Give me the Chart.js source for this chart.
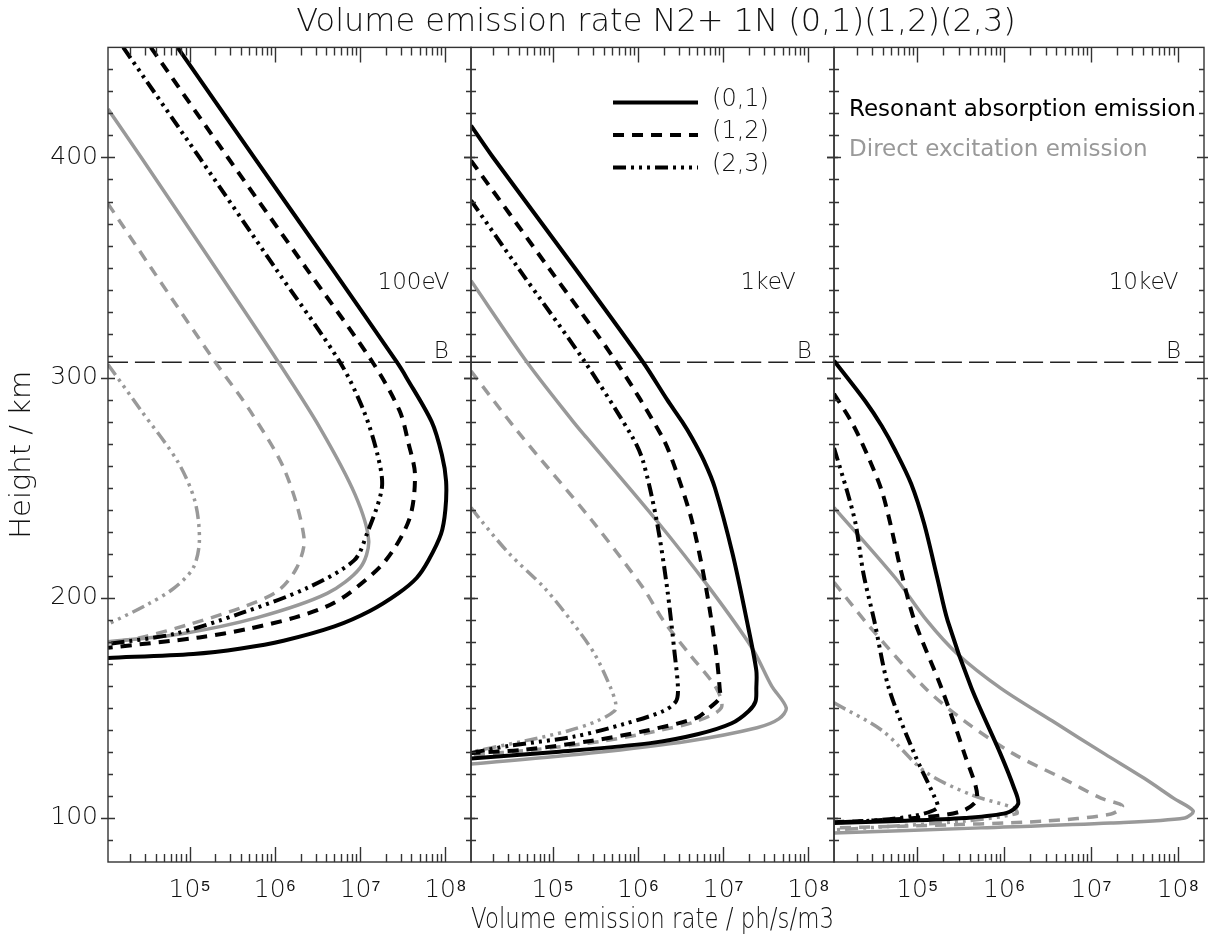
<!DOCTYPE html>
<html>
<head>
<meta charset="utf-8">
<title>Volume emission rate N2+ 1N</title>
<script src="https://cdn.jsdelivr.net/npm/chart.js@4.4.0/dist/chart.umd.min.js"></script>
<style>
  html, body { margin: 0; padding: 0; background: #fff; }
  #wrap { width: 1217px; height: 939px; }
</style>
</head>
<body>
<div id="wrap"><canvas id="emissionChart" width="1217" height="939"></canvas></div>
<script>
// axis ranges (same log range in every panel)
const xMin = 1.1e4;
const xMax = 2e8;
const yMin = 80;
const yMax = 450;
const bHeight = 307;       // dashed "B" level, km

const panelNames = ['100eV', '1keV', '10keV'];
const bandNames = ['(0,1)', '(1,2)', '(2,3)'];
const xTickValues = [1e5, 1e6, 1e7, 1e8];
const xTickLabels = ['10⁵', '10⁶', '10⁷', '10⁸'];

// [height km, emission ph/s/m3]
// 100 eV, resonant absorption (black)
const res_100eV_01 = [[450,7.2e4],[400,5.7e5],[350,4.6e6],[307,2.7e7],[300,3.5e7],[280,6.9e7],[265,9.1e7],[253,1.02e8],[240,1.0e8],[229,8.9e7],[216.8,6.3e7],[209,4.6e7],[202,2.8e7],[194,1.3e7],[187,5.0e6],[180.5,1.26e6],[177,4.0e5],[174.5,1.1e5],[172.7,1.1e4]];
const res_100eV_12 = [[450,3.5e4],[400,2.8e5],[350,2.3e6],[307,1.4e7],[285,2.9e7],[270,3.7e7],[256,4.4e7],[236,3.8e7],[217,2.0e7],[202,7.4e6],[196,4.0e6],[191,1.7e6],[186,5.0e5],[182,1.3e5],[177.3,1.1e4]];
const res_100eV_23 = [[450,1.66e4],[400,1.3e5],[350,1.0e6],[307,5.8e6],[285,1.1e7],[265,1.6e7],[250,1.8e7],[229,1.2e7],[217,8.5e6],[204.5,2.4e6],[193,4.0e5],[183.6,6.6e4],[179,1.1e4]];
// 100 eV, direct excitation (grey)
const dir_100eV_01 = [[422,1.1e4],[400,2.7e4],[350,2.0e5],[307,1.1e6],[277,3.4e6],[247,8.7e6],[226,1.26e7],[213.6,1.0e7],[202,4.1e6],[191,6.2e5],[183.6,7.8e4],[180,1.1e4]];
const dir_100eV_12 = [[379,1.1e4],[350,3.5e4],[307,2.0e5],[285,5.1e5],[258,1.3e6],[227,2.2e6],[213.6,1.8e6],[203,1.07e6],[195.5,4.0e5],[188,1.0e5],[182,2.7e4],[179.5,1.1e4]];
const dir_100eV_23 = [[306,1.1e4],[285,2.7e4],[262,7.2e4],[244,1.15e5],[226,1.3e5],[213.6,1.1e5],[204.5,6.6e4],[197,3.2e4],[188,1.1e4]];

// 1 keV
const res_1keV_01 = [[414.5,1.1e4],[400,2.0e4],[350,1.8e5],[307,1.15e6],[290,2.2e6],[280,3.3e6],[272.7,4.3e6],[262,6.0e6],[250,8.0e6],[220,1.29e7],[189.5,1.9e7],[167,2.45e7],[159,2.45e7],[153,2.4e7],[148.6,2.0e7],[143,1.26e7],[138,5.0e6],[134,1.4e6],[130,1.1e5],[127,1.1e4]];
const res_1keV_12 = [[398.6,1.1e4],[350,8.9e4],[307,5.6e5],[272.7,1.95e6],[257.7,2.8e6],[235,4.3e6],[204.5,6.3e6],[174.5,8.3e6],[159,9.1e6],[154.5,9.1e6],[150,6.9e6],[145.5,4.9e6],[139.5,1.2e6],[135,2.8e5],[131,4.7e4],[129.5,1.1e4]];
const res_1keV_23 = [[380.5,1.1e4],[350,3.9e4],[307,2.4e5],[272.7,8.7e5],[262,1.15e6],[235,1.66e6],[204.5,2.2e6],[174.5,2.7e6],[159,2.95e6],[153,2.8e6],[148.6,2.0e6],[142.7,6.9e5],[137,1.8e5],[132.7,3.0e4],[129.5,1.1e4]];
const dir_1keV_01 = [[344,1.1e4],[307,5.0e4],[280.5,1.7e5],[272.7,2.5e5],[235,1.66e6],[204.5,6.9e6],[177,2.2e7],[160,3.7e7],[150,5.5e7],[145,4.5e7],[141,2.5e7],[135,4.0e6],[129.5,2.8e5],[124.5,1.1e4]];
const dir_1keV_12 = [[303,1.1e4],[276,3.8e4],[235,2.9e5],[204.5,1.15e6],[189.5,2.0e6],[174.5,4.0e6],[159,8.3e6],[150,9.5e6],[144,4.9e6],[139.5,1.66e6],[135,4.0e5],[131,6.0e4],[128.5,1.1e4]];
const dir_1keV_23 = [[241,1.1e4],[235,1.45e4],[220,3.1e4],[204.5,8.0e4],[189.5,1.65e5],[174.5,3.1e5],[159,4.8e5],[151.8,5.5e5],[148.6,5.3e5],[144,3.3e5],[139.5,1.5e5],[135,4.7e4],[130,1.1e4]];

// 10 keV
const res_10keV_01 = [[307.7,1.1e4],[289.5,2.5e4],[278,3.9e4],[266.8,5.6e4],[251.8,8.5e4],[233.6,1.2e5],[209,1.7e5],[189.5,2.24e5],[159,4.2e5],[129,9.1e5],[113.6,1.3e6],[106.4,1.45e6],[102.3,1.07e6],[100,3.5e5],[98.6,6.0e4],[97.7,1.1e4]];
const res_10keV_12 = [[292.7,1.1e4],[279,1.8e4],[263.6,2.75e4],[248.6,3.9e4],[233.6,4.9e4],[211,6.6e4],[189.5,9.3e4],[159,1.9e5],[129,3.5e5],[109,4.9e5],[103,3.2e5],[100,9.3e4],[98,1.1e4]];
const res_10keV_23 = [[268,1.1e4],[248.6,1.55e4],[233.6,1.95e4],[211,2.4e4],[189.5,3.2e4],[159,4.7e4],[129,9.3e4],[109,1.6e5],[104.5,1.7e5],[101,9.3e4],[98.6,2.6e4],[98,1.1e4]];
const dir_10keV_01 = [[241,1.1e4],[209,5.6e4],[189.5,1.3e5],[174.5,2.9e5],[159,9.1e5],[144,3.6e6],[129,1.45e7],[118,4.1e7],[109,8.9e7],[103.2,1.5e8],[100,1.2e8],[97.7,1.7e7],[95.5,5.4e5],[93.2,1.1e4]];
const dir_10keV_12 = [[207,1.1e4],[186.4,2.9e4],[159,1.23e5],[144,3.5e5],[129,1.3e6],[118,4.7e6],[109,1.3e7],[105.5,2.3e7],[101.8,1.7e7],[98.6,3.0e6],[96.4,9.3e4],[95.5,1.1e4]];
const dir_10keV_23 = [[152.3,1.1e4],[139.5,4.0e4],[121,1.23e5],[110.5,4.2e5],[104.5,1.3e6],[102,1.4e6],[98.6,3.5e5],[95.5,2.6e4],[94.6,1.1e4]];

const resonant = [
  [res_100eV_01, res_100eV_12, res_100eV_23],
  [res_1keV_01, res_1keV_12, res_1keV_23],
  [res_10keV_01, res_10keV_12, res_10keV_23]
];
const direct = [
  [dir_100eV_01, dir_100eV_12, dir_100eV_23],
  [dir_1keV_01, dir_1keV_12, dir_1keV_23],
  [dir_10keV_01, dir_10keV_12, dir_10keV_23]
];

const FONT = "'DejaVu Sans', 'Liberation Sans', sans-serif";
const TEXT = '#111';
const GREY = '#999';
const bandDash = [[], [11, 8], [13, 5, 3, 5, 3, 5, 3, 5]];
const panelIds = ['x1', 'x2', 'x3'];
const panelWeights = [365, 365, 372];

Chart.defaults.font.family = FONT;
Chart.defaults.color = TEXT;

function lineSet(points, xAxisID, color, width, dash, order) {
  return {
    data: points.map(p => ({ x: p[1], y: p[0] })),
    xAxisID: xAxisID,
    yAxisID: 'y',
    borderColor: color,
    borderWidth: width,
    borderDash: dash,
    borderCapStyle: 'butt',
    borderJoinStyle: 'round',
    pointRadius: 0,
    fill: false,
    tension: 0.3,
    order: order
  };
}

const datasets = [];
panelIds.forEach((id, p) => {
  bandNames.forEach((band, b) => {
    datasets.push(lineSet(resonant[p][b], id, '#000', 4, bandDash[b], 0));
    datasets.push(lineSet(direct[p][b], id, GREY, 3.5, bandDash[b], 1));
  });
  datasets.push(lineSet([[bHeight, xMin], [bHeight, xMax]], id, '#222', 1.3, [20, 7], 2));
});

function xScale(p, title) {
  return {
    type: 'logarithmic',
    position: 'bottom',
    stack: 'panels',
    stackWeight: panelWeights[p],
    min: xMin,
    max: xMax,
    grid: { display: false, drawTicks: false },
    border: { display: false },
    ticks: {
      autoSkip: false,
      maxRotation: 0,
      minRotation: 0,
      padding: 13,
      color: TEXT,
      font: { size: 25, weight: '200' },
      callback: v => {
        const i = xTickValues.findIndex(t => Math.abs(t - v) / t < 1e-6);
        return i < 0 ? '' : xTickLabels[i];
      }
    },
    title: {
      display: !!title,
      text: title || '',
      color: TEXT,
      font: { size: 29, weight: '200' },
      padding: { top: 0, bottom: 1 }
    },
    afterFit: s => { s.height = 77; }
  };
}

// clips each curve to its panel, draws boxes, inward ticks and the in-plot text
const panelFrame = {
  id: 'panelFrame',
  beforeDatasetDraw(chart, args) {
    const xs = chart.scales[args.meta.xAxisID];
    const area = chart.chartArea;
    chart.ctx.save();
    chart.ctx.beginPath();
    chart.ctx.rect(xs.left, area.top, xs.right - xs.left, area.bottom - area.top);
    chart.ctx.clip();
  },
  afterDatasetDraw(chart) {
    chart.ctx.restore();
  },
  afterDraw(chart) {
    const ctx = chart.ctx;
    const area = chart.chartArea;
    const y = chart.scales.y;
    ctx.save();
    ctx.strokeStyle = '#333';
    ctx.lineWidth = 1.4;
    panelIds.forEach(id => {
      const xs = chart.scales[id];
      ctx.strokeRect(xs.left, area.top, xs.right - xs.left, area.bottom - area.top);
      ctx.beginPath();
      const e0 = Math.floor(Math.log10(xs.min));
      const e1 = Math.ceil(Math.log10(xs.max));
      for (let e = e0; e <= e1; e++) {
        for (let m = 1; m <= 9; m++) {
          const v = m * Math.pow(10, e);
          if (v <= xs.min || v >= xs.max) continue;
          const px = Math.round(xs.getPixelForValue(v)) + 0.5;
          const len = m === 1 ? 15 : 8;
          ctx.moveTo(px, area.bottom); ctx.lineTo(px, area.bottom - len);
          ctx.moveTo(px, area.top); ctx.lineTo(px, area.top + len);
        }
      }
      for (let h = Math.ceil(y.min / 10) * 10; h < y.max; h += 10) {
        if (h <= y.min) continue;
        const py = Math.round(y.getPixelForValue(h)) + 0.5;
        if (h % 100 === 0) {
          ctx.moveTo(xs.left - 7, py); ctx.lineTo(xs.left + 7, py);
          ctx.moveTo(xs.right - 7, py); ctx.lineTo(xs.right + 4, py);
        } else {
          ctx.moveTo(xs.left, py); ctx.lineTo(xs.left + 5, py);
          ctx.moveTo(xs.right - 5, py); ctx.lineTo(xs.right, py);
        }
      }
      ctx.stroke();
    });

    // energy labels and the B marks
    ctx.fillStyle = TEXT;
    ctx.font = `200 23px ${FONT}`;
    ctx.textAlign = 'left';
    panelIds.forEach((id, p) => {
      const xs = chart.scales[id];
      ctx.textBaseline = 'middle';
      ctx.fillText(panelNames[p], xs.getPixelForValue(1.6e7), y.getPixelForValue(343));
      ctx.textBaseline = 'alphabetic';
      ctx.fillText('B', xs.getPixelForValue(7.3e7), y.getPixelForValue(bHeight) - 4);
    });

    // line-style legend in the middle panel
    const x2 = chart.scales.x2;
    ctx.font = `200 24px ${FONT}`;
    ctx.textBaseline = 'middle';
    bandNames.forEach((band, b) => {
      const ly = area.top + 55 + b * 32.5;
      ctx.beginPath();
      ctx.setLineDash(bandDash[b]);
      ctx.lineWidth = 4;
      ctx.strokeStyle = '#000';
      ctx.moveTo(x2.left + 142, ly);
      ctx.lineTo(x2.left + 227, ly);
      ctx.stroke();
      ctx.setLineDash([]);
      ctx.fillText(band, x2.left + 241, ly - 3);
    });

    // colour key in the right panel
    const x3 = chart.scales.x3;
    ctx.font = `23px ${FONT}`;
    ctx.fillStyle = '#000';
    ctx.fillText('Resonant absorption emission', x3.left + 15, area.top + 63);
    ctx.fillStyle = GREY;
    ctx.fillText('Direct excitation emission', x3.left + 15, area.top + 103);
    ctx.restore();
  }
};

new Chart(document.getElementById('emissionChart'), {
  type: 'line',
  data: { datasets },
  plugins: [panelFrame],
  options: {
    responsive: false,
    animation: false,
    events: [],
    devicePixelRatio: 1,
    layout: { padding: { left: 0, right: 7, top: 0, bottom: 0 }, autoPadding: false },
    plugins: {
      legend: { display: false },
      tooltip: { enabled: false },
      title: {
        display: true,
        fullSize: false,
        text: 'Volume emission rate N2+ 1N (0,1)(1,2)(2,3)',
        color: TEXT,
        font: { size: 32, weight: '200' },
        padding: { top: 3, bottom: 6 }
      }
    },
    scales: {
      y: {
        type: 'linear',
        position: 'left',
        min: yMin,
        max: yMax,
        grid: { display: false, drawTicks: false },
        border: { display: false },
        ticks: { stepSize: 100, includeBounds: false, padding: 10, color: TEXT, font: { size: 25, weight: '200' } },
        title: {
          display: true,
          text: 'Height / km',
          color: TEXT,
          font: { size: 29, weight: '200' },
          padding: { top: 5, bottom: 0 }
        },
        afterFit: s => { s.width = 108; }
      },
      x1: xScale(0),
      x2: xScale(1, 'Volume emission rate / ph/s/m3'),
      x3: xScale(2)
    }
  }
});
</script>
</body>
</html>
